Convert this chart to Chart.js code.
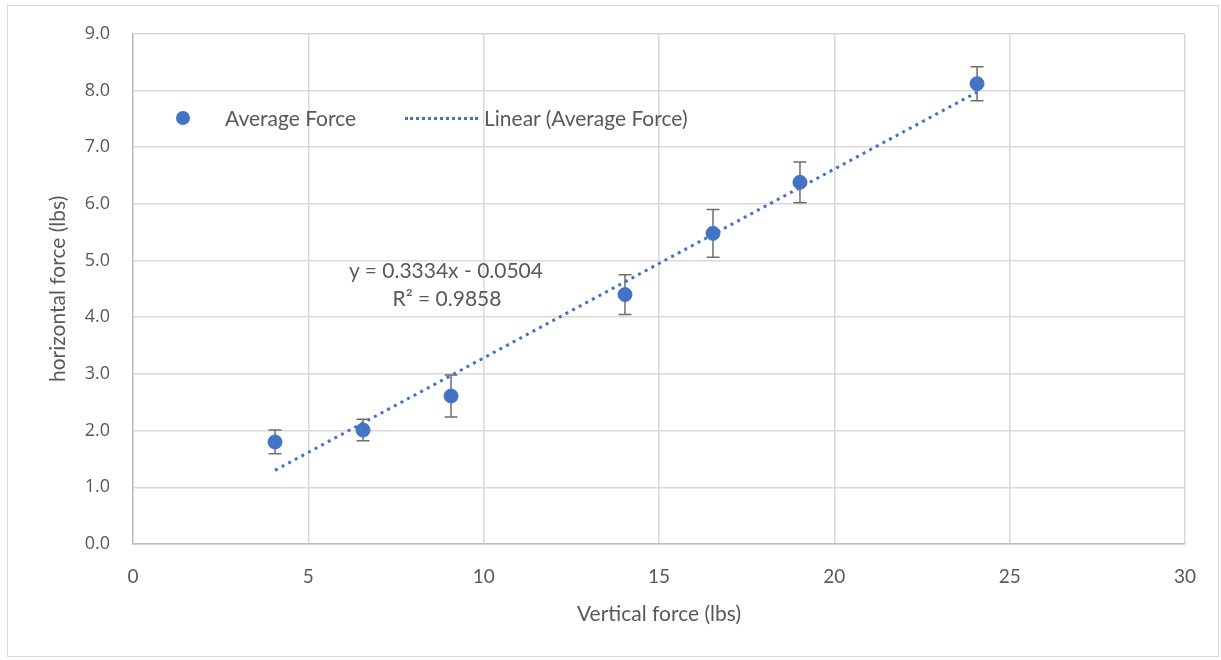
<!DOCTYPE html>
<html>
<head>
<meta charset="utf-8">
<script src="https://cdn.jsdelivr.net/npm/chart.js@4.4.0/dist/chart.umd.min.js"></script>
<style>
  html, body { margin: 0; padding: 0; background: #fff; }
  #wrap { position: relative; width: 1221px; height: 660px; }
  #frame { position: absolute; left: 7px; top: 5px; width: 1212px; height: 652px; border: 1px solid #d9d9d9; box-sizing: border-box; pointer-events: none; }
  canvas { position: absolute; left: 0; top: 0; }
  .lbl { position: absolute; font-family: Lato, "Liberation Sans", sans-serif; font-size: 21px; color: #595959; white-space: nowrap; line-height: 1; }
  .leg-dot { position: absolute; width: 14px; height: 14px; border-radius: 50%; background: #4472C4; }
  .leg-line { position: absolute; height: 0; border-top: 3px dotted #4472C4; }
</style>
</head>
<body>
<div id="wrap">
  <canvas id="c" width="1221" height="660"></canvas>
  <div id="frame"></div>
  <div class="leg-dot" style="left:176px; top:111px;"></div>
  <div class="lbl" style="left:225px; top:107px;">Average Force</div>
  <div class="leg-line" style="left:405px; top:117px; width:73px;"></div>
  <div class="lbl" style="left:484px; top:107px;">Linear (Average Force)</div>
  <div class="lbl" style="left:326px; top:259px; width:240px; text-align:center;">y = 0.3334x - 0.0504</div>
  <div class="lbl" style="left:327px; top:287px; width:240px; text-align:center;">R² = 0.9858</div>
</div>
<script>
const verticalForce = [4.05, 6.56, 9.07, 14.03, 16.54, 19.02, 24.07];
const averageForce  = [1.80, 2.01, 2.61, 4.40, 5.48, 6.38, 8.12];
const errorAmount   = [0.21, 0.19, 0.37, 0.35, 0.42, 0.36, 0.30];
const trendX = [4.05, 24.07];
const trendY = [1.30, 7.97];
const xTicks = [0, 5, 10, 15, 20, 25, 30];
const yTicks = [0, 1, 2, 3, 4, 5, 6, 7, 8, 9];

const pointData = verticalForce.map((x, i) => ({ x: x, y: averageForce[i] }));
const trendData = trendX.map((x, i) => ({ x: x, y: trendY[i] }));

const errorBars = {
  id: 'errorBars',
  beforeDatasetsDraw(chart) {
    const { ctx, scales: { x, y } } = chart;
    ctx.save();
    ctx.strokeStyle = '#6e6e6e';
    ctx.lineWidth = 1.5;
    verticalForce.forEach((vx, i) => {
      const px = x.getPixelForValue(vx);
      const top = y.getPixelForValue(averageForce[i] + errorAmount[i]);
      const bot = y.getPixelForValue(averageForce[i] - errorAmount[i]);
      ctx.beginPath();
      ctx.moveTo(px, top); ctx.lineTo(px, bot);
      ctx.moveTo(px - 6.5, top); ctx.lineTo(px + 6.5, top);
      ctx.moveTo(px - 6.5, bot); ctx.lineTo(px + 6.5, bot);
      ctx.stroke();
    });
    ctx.restore();
  }
};

const labelFont = 'Lato, "Liberation Sans", sans-serif';

new Chart(document.getElementById('c'), {
  type: 'scatter',
  data: {
    datasets: [
      {
        label: 'Average Force',
        data: pointData,
        backgroundColor: '#4472C4',
        borderColor: '#4472C4',
        pointRadius: 7,
        pointHoverRadius: 7,
        showLine: false
      },
      {
        label: 'Linear (Average Force)',
        data: trendData,
        showLine: true,
        borderColor: '#4472C4',
        borderWidth: 3,
        borderDash: [3, 4.5],
        pointRadius: 0,
        fill: false
      }
    ]
  },
  options: {
    responsive: false,
    animation: false,
    events: [],
    layout: { padding: { left: 0, top: 33, right: 36, bottom: 0 } },
    plugins: { legend: { display: false }, tooltip: { enabled: false } },
    scales: {
      x: {
        type: 'linear',
        min: 0, max: 30,
        afterBuildTicks(scale) { scale.ticks = xTicks.map(v => ({ value: v })); },
        afterFit(scale) { scale.height = 116; },
        grid: { color: '#d9d9d9', lineWidth: 1.5, drawTicks: false },
        border: { color: '#bfbfbf', width: 1.5 },
        ticks: { color: '#595959', padding: 21, font: { family: labelFont, size: 19 } },
        title: { display: true, text: 'Vertical force (lbs)', color: '#595959', font: { family: labelFont, size: 21 }, padding: { top: 0, bottom: 33 } }
      },
      y: {
        type: 'linear',
        min: 0, max: 9,
        afterBuildTicks(scale) { scale.ticks = yTicks.map(v => ({ value: v })); },
        afterFit(scale) { scale.width = 133; },
        grid: { color: '#d9d9d9', lineWidth: 1.5, drawTicks: false },
        border: { color: '#bfbfbf', width: 1.5 },
        ticks: { color: '#595959', padding: 23, font: { family: '"Open Sans", sans-serif', size: 18 }, callback: v => v.toFixed(1) },
        title: { display: true, text: 'horizontal force (lbs)', color: '#595959', font: { family: labelFont, size: 21 }, padding: { top: 46, bottom: 0 } }
      }
    }
  },
  plugins: [errorBars]
});
</script>
</body>
</html>
